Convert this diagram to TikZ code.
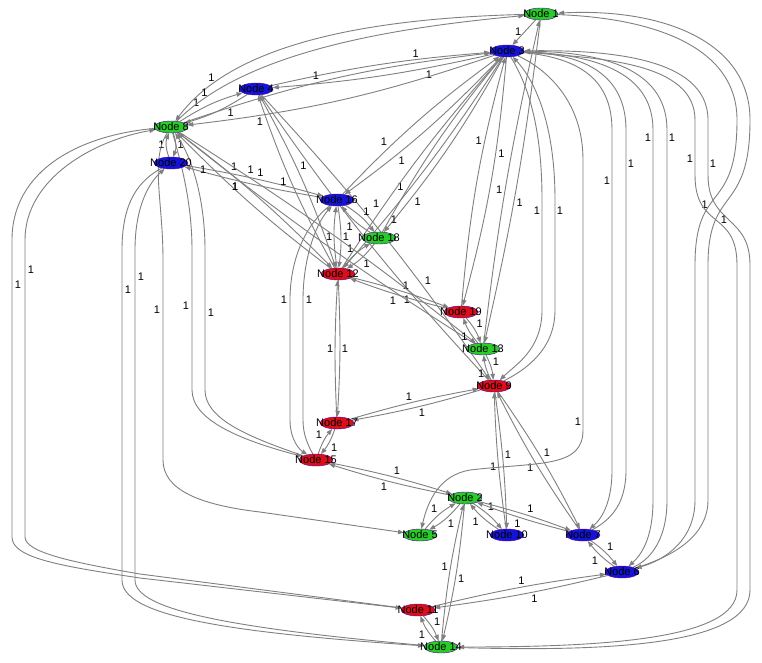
\documentclass[tikz,border=0pt]{standalone}
\usepackage{fontspec}
\setmainfont{Liberation Sans}
\usetikzlibrary{shapes.geometric,arrows.meta}
\pgfdeclarelayer{bg}\pgfsetlayers{bg,main}
\definecolor{ngreen}{RGB}{40,205,40}
\definecolor{nblue}{RGB}{20,20,215}
\definecolor{nred}{RGB}{220,15,25}
\definecolor{egray}{RGB}{128,128,128}
\tikzset{
  nd/.style={ellipse, minimum width=34pt, minimum height=12pt, inner sep=0pt, draw=violet!70!blue, line width=0.4pt},
  txt/.style={font=\fontsize{11}{12}\selectfont, inner sep=0pt, text=black},
  edge/.style={draw=egray, line width=0.9pt, -{Triangle[length=6pt,width=4.5pt]}},
  lbl/.style={font=\fontsize{11}{12}\selectfont, inner sep=1.5pt, text=black},
}
\newcommand\pr[5]{%
  \draw[edge] (#1) to[bend left=#3] node[lbl,pos=#4,auto]{1} (#2);
  \draw[edge] (#2) to[bend left=#3] node[lbl,pos=#5,auto]{1} (#1);}
\begin{document}
\begin{tikzpicture}[x=1pt,y=-1pt]
\useasboundingbox (0,0) rectangle (762,662);
% nodes
\node[nd,fill=ngreen,label={[txt]center:Node 1}] (n1) at (541,14) {};
\node[nd,fill=nblue,label={[txt]center:Node 3}] (n3) at (507,51) {};
\node[nd,fill=nblue,label={[txt]center:Node 4}] (n4) at (256,89) {};
\node[nd,fill=ngreen,label={[txt]center:Node 8}] (n8) at (171,127) {};
\node[nd,fill=nblue,label={[txt]center:Node 20}] (n20) at (171,163) {};
\node[nd,fill=nblue,label={[txt]center:Node 16}] (n16) at (337,200) {};
\node[nd,fill=ngreen,label={[txt]center:Node 18}] (n18) at (379,238) {};
\node[nd,fill=nred,label={[txt]center:Node 12}] (n12) at (338,274) {};
\node[nd,fill=nred,label={[txt]center:Node 19}] (n19) at (461,312) {};
\node[nd,fill=ngreen,label={[txt]center:Node 13}] (n13) at (483,349) {};
\node[nd,fill=nred,label={[txt]center:Node 9}] (n9) at (494,386) {};
\node[nd,fill=nred,label={[txt]center:Node 17}] (n17) at (337,423) {};
\node[nd,fill=nred,label={[txt]center:Node 15}] (n15) at (316,460) {};
\node[nd,fill=ngreen,label={[txt]center:Node 2}] (n2) at (465,498) {};
\node[nd,fill=ngreen,label={[txt]center:Node 5}] (n5) at (420,535) {};
\node[nd,fill=nblue,label={[txt]center:Node 10}] (n10) at (507,535) {};
\node[nd,fill=nblue,label={[txt]center:Node 7}] (n7) at (583,535) {};
\node[nd,fill=nblue,label={[txt]center:Node 6}] (n6) at (622,572) {};
\node[nd,fill=nred,label={[txt]center:Node 11}] (n11) at (418,610) {};
\node[nd,fill=ngreen,label={[txt]center:Node 14}] (n14) at (441,647) {};
\begin{pgfonlayer}{bg}
\fill[white] (0,0) rectangle (762,662);
% short connections
\draw[edge] (n1) -- node[lbl,pos=0.45,left=2pt]{1} (n3);
\pr{n3}{n4}{4}{0.3}{0.7}
\pr{n3}{n8}{6}{0.8}{0.45}
\pr{n4}{n8}{8}{0.35}{0.35}
\pr{n8}{n20}{20}{0.5}{0.5}
\pr{n20}{n16}{3}{0.5}{0.6}
\pr{n4}{n12}{5}{0.45}{0.55}
\pr{n4}{n9}{4}{0.7}{0.3}
\pr{n3}{n16}{5}{0.7}{0.3}
\pr{n3}{n18}{5}{0.8}{0.2}
\pr{n3}{n12}{4}{0.75}{0.25}
\pr{n3}{n19}{5}{0.35}{0.65}
\pr{n1}{n13}{3}{0.55}{0.45}
\pr{n16}{n12}{8}{0.5}{0.5}
\pr{n16}{n18}{10}{0.5}{0.5}
\pr{n18}{n12}{10}{0.5}{0.5}
\pr{n12}{n19}{3}{0.5}{0.5}
\pr{n8}{n12}{4}{0.3}{0.8}
\pr{n8}{n13}{3}{0.2}{0.8}
\pr{n12}{n17}{3}{0.5}{0.5}
\pr{n17}{n15}{10}{0.5}{0.5}
\pr{n9}{n17}{3}{0.5}{0.5}
\pr{n15}{n2}{3}{0.5}{0.5}
\pr{n9}{n10}{3}{0.5}{0.5}
\pr{n9}{n7}{4}{0.5}{0.5}
\pr{n9}{n13}{10}{0.5}{0.5}
\pr{n13}{n19}{10}{0.5}{0.5}
\pr{n2}{n5}{10}{0.5}{0.5}
\pr{n2}{n10}{8}{0.4}{0.6}
\pr{n2}{n7}{3}{0.5}{0.5}
\pr{n7}{n6}{8}{0.5}{0.5}
\pr{n2}{n14}{4}{0.5}{0.5}
\pr{n11}{n14}{10}{0.5}{0.5}
\pr{n11}{n6}{3}{0.55}{0.45}
% routed connections
% Node 1 - Node 8 over the top
\draw[edge] (n1) .. controls (380,18) and (235,40) .. node[lbl,pos=0.82,above left=-1pt]{1} (n8);
\draw[edge] (n8) .. controls (245,52) and (390,28) .. node[lbl,pos=0.12,above]{1} (n1);
% Node 1 - Node 6 on the right
\draw[edge] (n1) .. controls (650,18) and (737,45) .. (737,120) .. controls (737,215) and (695,180) .. node[lbl,pos=0.6,left]{1} (695,265) -- (695,500) .. controls (695,540) and (665,560) .. (n6);
\draw[edge] (n6) .. controls (675,556) and (708,535) .. (708,500) -- (708,265) .. controls (708,185) and (750,215) .. (750,120) .. controls (750,40) and (660,8) .. (n1);
% Node 3 - Node 14 on the right
\draw[edge] (n3) .. controls (600,58) and (695,62) .. (695,120) -- node[lbl,pos=0.7,left]{1} (695,175) .. controls (695,230) and (737,210) .. (737,265) -- (737,590) .. controls (737,640) and (600,647) .. (n14);
\draw[edge] (n14) .. controls (610,652) and (750,645) .. (750,590) -- (750,265) .. controls (750,215) and (708,225) .. node[lbl,pos=0.5,left]{1} (708,175) -- node[lbl,pos=0.2,right]{1} (708,120) .. controls (708,55) and (600,50) .. (n3);
% Node 3 - Node 7
\draw[edge] (n3) .. controls (580,58) and (612,80) .. (612,130) -- node[lbl,pos=0.15,left]{1} (612,470) .. controls (612,505) and (600,520) .. (n7);
\draw[edge] (n7) .. controls (610,520) and (626,505) .. (626,470) -- node[lbl,pos=0.9,right]{1} (626,130) .. controls (626,75) and (585,55) .. (n3);
% Node 3 - Node 6
\draw[edge] (n3) .. controls (610,55) and (653,80) .. (653,130) -- node[lbl,pos=0.02,left]{1} (653,500) .. controls (653,540) and (640,556) .. (n6);
\draw[edge] (n6) .. controls (650,560) and (667,540) .. (667,500) -- node[lbl,pos=0.98,right]{1} (667,130) .. controls (667,75) and (615,52) .. (n3);
% Node 3 - Node 9
\draw[edge] (n3) .. controls (525,80) and (542,120) .. (542,200) -- node[lbl,pos=0.1,left]{1} (542,310) .. controls (542,350) and (515,365) .. (n9);
\draw[edge] (n9) .. controls (525,370) and (555,350) .. (555,310) -- node[lbl,pos=0.9,right]{1} (555,200) .. controls (555,115) and (530,75) .. (n3);
% Node 3 - Node 5
\draw[edge] (n3) .. controls (545,68) and (583,100) .. (583,160) -- node[lbl,pos=0.97,left]{1} (583,430) .. controls (583,468) and (540,462) .. (470,470) .. controls (440,475) and (428,500) .. (n5);
% Node 8 - Node 11 on the far left
\draw[edge] (n8) .. controls (80,135) and (12,170) .. (12,240) -- node[lbl,pos=0.15,right=1pt]{1} (12,537) .. controls (12,558) and (60,566) .. (140,578) -- (n11);
\draw[edge] (n11) -- (140,574) .. controls (70,562) and (25,552) .. (25,537) -- node[lbl,pos=0.9,right=1pt]{1} (25,240) .. controls (25,178) and (95,140) .. (n8);
% Node 20 - Node 14
\draw[edge] (n20) .. controls (140,180) and (122,200) .. (122,250) -- node[lbl,pos=0.12,right=1pt]{1} (122,580) .. controls (122,615) and (220,632) .. (n14);
\draw[edge] (n14) .. controls (230,628) and (135,610) .. (135,580) -- node[lbl,pos=0.92,right=1pt]{1} (135,250) .. controls (135,205) and (150,182) .. (n20);
% Node 8 - Node 5
\draw[edge] (n8) .. controls (150,160) and (163,200) .. (163,260) -- node[lbl,pos=0.25,left=1pt]{1} (163,460) .. controls (163,490) and (200,505) .. (260,512) -- (n5);
% Node 8 - Node 15
\draw[edge] (n8) .. controls (180,160) and (192,200) .. (192,250) -- node[lbl,pos=0.4,left=1pt]{1} (192,390) .. controls (192,420) and (240,440) .. (n15);
\draw[edge] (n15) .. controls (245,436) and (205,418) .. (205,390) -- node[lbl,pos=0.55,right=1pt]{1} (205,250) .. controls (205,195) and (190,155) .. (n8);
% Node 16 - Node 15 on its left
\draw[edge] (n16) .. controls (305,225) and (290,260) .. (290,300) -- node[lbl,pos=0.0,left=1pt]{1} (290,420) .. controls (290,440) and (300,450) .. (n15);
\draw[edge] (n15) .. controls (308,445) and (303,435) .. (303,420) -- node[lbl,pos=1.0,right=1pt]{1} (303,300) .. controls (303,260) and (315,225) .. (n16);
\end{pgfonlayer}
\end{tikzpicture}
\end{document}
